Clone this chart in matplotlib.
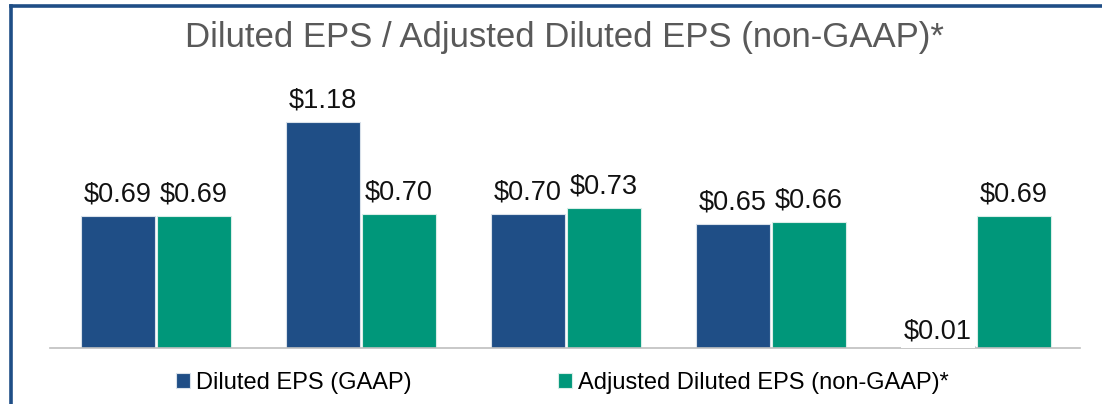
import numpy as np
import matplotlib; matplotlib.use("Agg")
import matplotlib.pyplot as plt
from matplotlib.lines import Line2D

periods = ["P1", "P2", "P3", "P4", "P5"]
gaap = [0.69, 1.18, 0.70, 0.65, 0.01]
adjusted = [0.69, 0.70, 0.73, 0.66, 0.69]
series_names = ["Diluted EPS (GAAP)", "Adjusted Diluted EPS (non-GAAP)*"]
title = "Diluted EPS / Adjusted Diluted EPS (non-GAAP)*"

BLUE = "#1F4E86"; GREEN = "#00977A"
plt.rcParams.update({"font.family": ["Liberation Sans", "DejaVu Sans"]})

W, H = 1102, 404
fig = plt.figure(figsize=(W/100, H/100), dpi=100)
ax = fig.add_axes([50/W, 56/H, 1030/W, 268/H])

x = np.arange(len(periods)); bw = 0.36
b1 = ax.bar(x - bw/2 - 0.005, gaap, bw, color=BLUE, edgecolor="#D9E1EA", linewidth=0.8, label=series_names[0])
b2 = ax.bar(x + bw/2 + 0.005, adjusted, bw, color=GREEN, edgecolor="#D9EDE7", linewidth=0.8, label=series_names[1])

for bars, vals in ((b1, gaap), (b2, adjusted)):
    for r, v in zip(bars, vals):
        small = v < 0.05
        ax.annotate(f"${v:.2f}", (r.get_x() + r.get_width()/2, v),
                    xytext=(0, 1.2 if small else 6), textcoords="offset points",
                    ha="center", va="bottom", fontsize=19.5, color="#111111",
                    bbox=dict(boxstyle="square,pad=0.12", fc="white", ec="none") if small else None,
                    zorder=5)

ax.set_xlim(-0.517, 4.507); ax.set_ylim(0, 1.4)
ax.set_xticks([]); ax.set_yticks([])
for s in ("left", "right", "top"):
    ax.spines[s].set_visible(False)
ax.spines["bottom"].set_color("#BFBFBF"); ax.spines["bottom"].set_linewidth(1.2)
ax.patch.set_alpha(0)

fig.text(564/W, 1 - 38/H, title, ha="center", va="center", fontsize=25, color="#595959")

fig.legend(handles=[b1, b2], loc="center", bbox_to_anchor=(562/W, 1 - 383/H),
           ncol=2, frameon=False, fontsize=17, handlelength=0.6, handleheight=0.6,
           handletextpad=0.25, columnspacing=6.2)

# outer frame (top and left edges visible)
fig.add_artist(Line2D([10.5/W, 1.0], [1 - 5.5/H, 1 - 5.5/H], color=BLUE, lw=2.6))
fig.add_artist(Line2D([10.5/W, 10.5/W], [0, 1 - 5.5/H], color=BLUE, lw=2.6))

fig.savefig("out.png", dpi=100)
